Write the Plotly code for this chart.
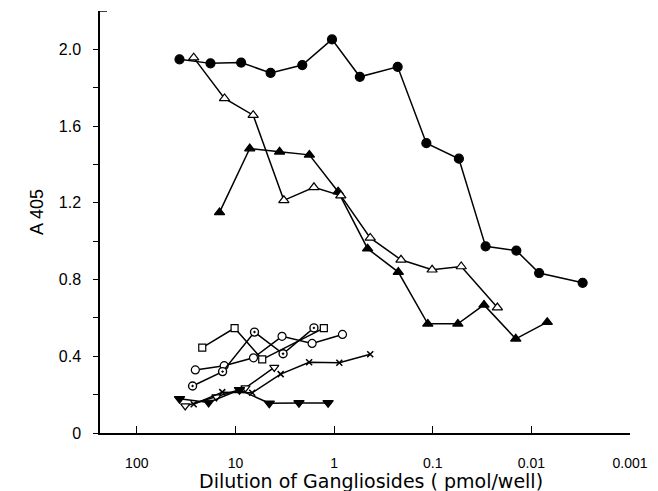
import plotly.graph_objects as go

# ---- data (x = pmol/well, y = A405) ----
fc_x = [36.9, 17.9, 8.75, 4.40, 2.10, 1.05, 0.548, 0.2266, 0.116, 0.0543, 0.0291, 0.0142, 0.00834, 0.00302]
fc_y = [1.948, 1.927, 1.931, 1.877, 1.918, 2.052, 1.857, 1.909, 1.511, 1.43, 0.973, 0.951, 0.834, 0.783]

ot_x = [26.5, 12.9, 6.61, 3.23, 1.60, 0.855, 0.430, 0.2096, 0.1014, 0.0514, 0.0221]
ot_y = [1.957, 1.744, 1.657, 1.213, 1.281, 1.238, 1.017, 0.903, 0.851, 0.868, 0.654]

ft_x = [14.5, 7.16, 3.57, 1.78, 0.910, 0.457, 0.2233, 0.1122, 0.0556, 0.0302, 0.0144, 0.0069]
ft_y = [1.150, 1.483, 1.466, 1.450, 1.258, 0.961, 0.839, 0.569, 0.569, 0.668, 0.491, 0.578]

sq_x = [21.7, 10.2, 5.35, 1.27]
sq_y = [0.445, 0.547, 0.384, 0.547]

oc_x = [25.5, 13.0, 6.56, 3.37, 1.67, 0.822]
oc_y = [0.329, 0.351, 0.392, 0.504, 0.467, 0.514]

dc_x = [27.2, 13.5, 6.41, 3.29, 1.60]
dc_y = [0.245, 0.320, 0.526, 0.413, 0.548]

od_x = [32.3, 15.6, 7.91, 4.04]
od_y = [0.141, 0.188, 0.235, 0.342]

cr_x = [26.5, 13.6, 6.76, 3.48, 1.79, 0.885, 0.430]
cr_y = [0.150, 0.213, 0.210, 0.307, 0.369, 0.366, 0.411]

fd_x = [36.9, 18.7, 9.10, 4.54, 2.27, 1.15]
fd_y = [0.178, 0.159, 0.225, 0.155, 0.157, 0.157]

x_ticks = [100, 10, 1, 0.1, 0.01, 0.001]
x_labels = ["100", "10", "1", "0.1", "0.01", "0.001"]
y_ticks = [0, 0.2, 0.4, 0.6, 0.8, 1.0, 1.2, 1.4, 1.6, 1.8, 2.0]
y_labels = ["0", "", "0.4", "", "0.8", "", "1.2", "", "1.6", "", "2.0"]

W, H = 658, 491
L, R, T, B = 100, 28, 11, 58
PW, PH = W - L - R, H - T - B

fig = go.Figure()

def add(x, y, symbol, size, fill, lw=1.2):
    fig.add_trace(go.Scatter(
        x=x, y=y, mode="lines+markers",
        line=dict(color="black", width=1.5),
        marker=dict(symbol=symbol, size=size, color=fill,
                    line=dict(color="black", width=lw)),
        showlegend=False, hoverinfo="skip"))

add(sq_x, sq_y, "square", 7, "white")
add(oc_x, oc_y, "circle", 8, "white")
add(dc_x, dc_y, "circle-dot", 8, "white", 1.4)
add(od_x, od_y, "triangle-down", 8, "white")
add(cr_x, cr_y, "x-thin", 6, "black", 1.5)
add(fd_x, fd_y, "triangle-down", 9, "black")
add(ft_x, ft_y, "triangle-up", 9, "black")
add(ot_x, ot_y, "triangle-up", 9, "white")
add(fc_x, fc_y, "circle", 9, "black")

fig.update_layout(
    width=W, height=H,
    margin=dict(l=L, r=R, t=T, b=B, autoexpand=False),
    paper_bgcolor="white", plot_bgcolor="white",
    font=dict(family="Liberation Sans, Arial, sans-serif", color="black"),
    xaxis=dict(type="log", range=[2.373, -3.0], showgrid=False, zeroline=False,
               showline=True, linecolor="black", linewidth=1.5,
               ticks="inside", ticklen=7, tickwidth=1.3, tickcolor="black",
               tickvals=x_ticks, ticktext=x_labels, tickfont=dict(size=14),
               ticklabelstandoff=16),
    yaxis=dict(range=[0, 2.2], showgrid=False, zeroline=False,
               showline=True, linecolor="black", linewidth=1.5,
               ticks="outside", ticklen=5, tickwidth=1.3, tickcolor="black",
               tickvals=y_ticks, ticktext=y_labels, tickfont=dict(size=16),
               ticklabelstandoff=9),
    annotations=[
        dict(text="A 405", textangle=-90, xref="paper", yref="paper",
             x=(37 - L) / PW, y=(H - B - 212) / PH, showarrow=False,
             font=dict(size=18, family="Liberation Sans, Arial, sans-serif"),
             xanchor="center", yanchor="middle"),
        dict(text="Dilution of Gangliosides ( pmol/well)", xref="paper", yref="paper",
             x=(371 - L) / PW, y=(H - B - 481) / PH, showarrow=False,
             font=dict(size=19, family="DejaVu Sans, sans-serif"),
             xanchor="center", yanchor="middle"),
    ],
    shapes=[dict(type="line", xref="paper", yref="y", x0=0, x1=7 / PW, y0=2.2, y1=2.2,
                 line=dict(color="black", width=1.5))],
)

fig.write_html("out.html")
